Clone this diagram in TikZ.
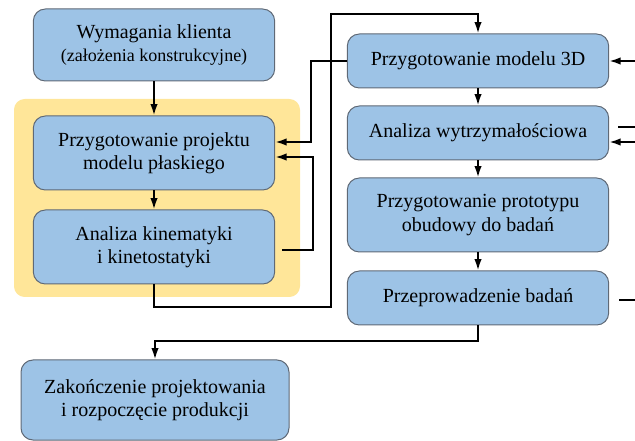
\documentclass[tikz,border=0pt]{standalone}
\usepackage{fontspec}
\setmainfont{Liberation Serif}
\usetikzlibrary{arrows.meta}

\definecolor{boxblue}{RGB}{157,195,230}
\definecolor{boxedge}{RGB}{95,105,118}
\definecolor{bggold}{RGB}{255,230,153}

\tikzset{every picture/.style={line width=0.75pt}}
\tikzset{
  stepbox/.style={draw=boxedge, fill=boxblue, rounded corners=9pt, align=center,
    text=black, font=\rmfamily\fontsize{15}{17.5}\selectfont, inner sep=2pt},
  link/.style={line width=1.4pt, -{Latex[length=8.5pt,width=5.5pt]}},
  stub/.style={line width=1.4pt}
}

\begin{document}
\begin{tikzpicture}[x=0.75pt,y=0.75pt,yscale=-1,xscale=1]
\useasboundingbox (0,0) rectangle (635,441);

%Rounded Rect: gold background
\fill [bggold, rounded corners=8pt] (14,99) rectangle (300,297);

%Left column
\node [stepbox, minimum width=181pt, minimum height=54pt] (klient) at (154,45)
  {Wymagania klienta\\{\fontsize{13.5}{16}\selectfont (założenia konstrukcyjne)}};
\node [stepbox, minimum width=181pt, minimum height=55.5pt] (plaski) at (154,153)
  {Przygotowanie projektu\\modelu płaskiego};
\node [stepbox, minimum width=181pt, minimum height=55.5pt] (kinemat) at (154,247)
  {Analiza kinematyki\\i kinetostatyki};

%Right column
\node [stepbox, minimum width=196pt, minimum height=40.5pt] (model) at (478,61)
  {Przygotowanie modelu 3D};
\node [stepbox, minimum width=196pt, minimum height=40.5pt] (wytrz) at (478,133)
  {Analiza wytrzymałościowa};
\node [stepbox, minimum width=196pt, minimum height=55.5pt] (proto) at (478,215)
  {Przygotowanie prototypu\\obudowy do badań};
\node [stepbox, minimum width=196pt, minimum height=40.5pt] (badania) at (478,298)
  {Przeprowadzenie badań};

%Final box
\node [stepbox, minimum width=201pt, minimum height=60pt] (koniec) at (155,400)
  {Zakończenie projektowania\\i rozpoczęcie produkcji};

%Free ends on the right edge
\coordinate (inModel) at (635,61);
\coordinate (outWytrzA) at (618,127);
\coordinate (edgeWytrzA) at (635,127);
\coordinate (inWytrz) at (635,142);
\coordinate (outBadania) at (619,300);
\coordinate (edgeBadania) at (635,300);

%Connectors
\draw [link] (klient) -- (plaski);
\draw [link] (plaski) -- (kinemat);
\draw [link] (model.west) -| (311,142) -- (plaski.east |- 311,142);
\draw [link] (282,250) -- (313,250) |- (plaski.east |- 313,157);
\draw [link] (kinemat.south) |- (331,307) -- (331,14) -| (model.north);
\draw [link] (model) -- (wytrz);
\draw [link] (wytrz) -- (proto);
\draw [link] (proto) -- (badania);
\draw [link] (badania.south) |- (155,341) -- (koniec.north);

\draw [link] (inModel) -- (model.east);
\draw [stub] (outWytrzA) -- (edgeWytrzA);
\draw [link] (inWytrz) -- (wytrz.east |- inWytrz);
\draw [stub] (outBadania) -- (edgeBadania);

\end{tikzpicture}
\end{document}
